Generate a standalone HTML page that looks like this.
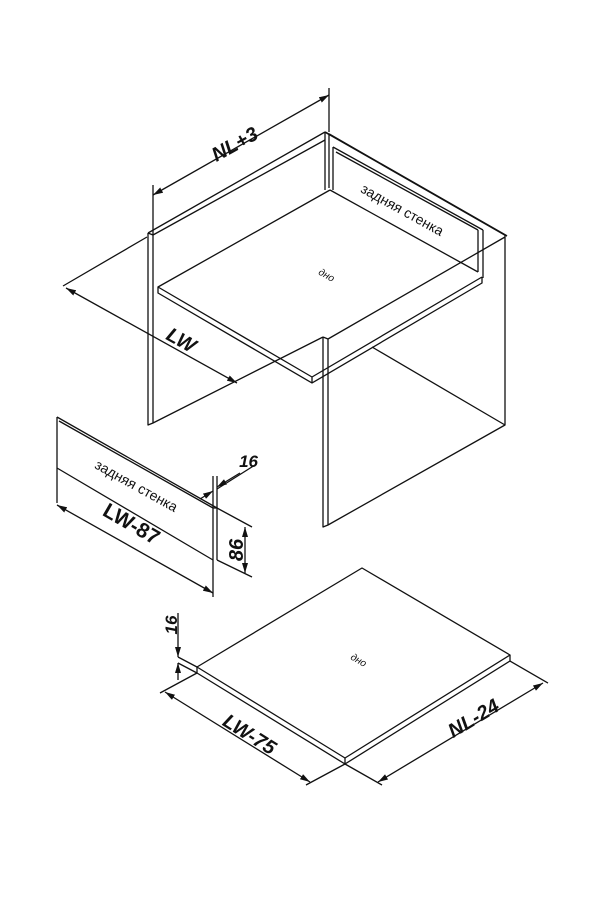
<!DOCTYPE html>
<html><head><meta charset="utf-8"><style>
html,body{margin:0;padding:0;background:#fff}
svg{display:block}
text{font-family:"Liberation Sans",sans-serif;fill:#111}
.b{font-weight:bold;font-style:italic;font-size:20px}
.s{font-size:14px}
</style></head><body>
<svg width="600" height="900" viewBox="0 0 600 900" xmlns="http://www.w3.org/2000/svg">
<defs>
<marker id="a" viewBox="0 0 10 6" refX="10" refY="3" markerWidth="10" markerHeight="6" orient="auto-start-reverse" markerUnits="userSpaceOnUse">
<path d="M0,0 L10,3 L0,6 z" fill="#111"/></marker>
</defs>
<g stroke="#111" stroke-width="1.3" fill="none" stroke-linejoin="round">
<path d="M148,233 L148,425 L153,423 L153,235 L148,233 M148,233 L325,132 M153,235 L325,140 M153,423 L323,337"/>
<path d="M325,132 L325,190 M329,134 L329,188"/>
<path d="M325,132 L505,235 M329,134 L507,236" stroke-width="1.6"/>
<path d="M323,337 L323,527 L328,525 L328,339 L323,337 M328,339 L505,237 M505,235 L505,425 L328,525 M372,347 L505,425"/>
<path d="M333,147 L333,190 M333,147 L483,230 M336,152 L478,230 M483,230 L483,278 M478,230 L478,272 M330,190 L478,272"/>
<path d="M330,190 L158,287 L312,377 L482,277 M158,287 L158,293 L312,383 L482,283 L482,277 M312,377 L312,383"/>
<path d="M153,235 L153,185 M329,132 L329,88"/>
<path d="M153,195 L329,95" marker-start="url(#a)" marker-end="url(#a)"/>
<path d="M147,237 L63,286"/>
<path d="M66,288 L237,383" marker-start="url(#a)" marker-end="url(#a)"/>
<path d="M57,417 L57,503 M57,417 L217,508 M59,421 L213,508 M57,468 L213,560 M213,508 L213,597 M217,508 L217,560 M213,508 L217,508"/>
<path d="M57,505 L213,593" marker-start="url(#a)" marker-end="url(#a)"/>
<path d="M213,508 L213,476 M217,508 L217,476"/>
<path d="M217,489 L255,465" />
<path d="M200,499 L213,491" marker-end="url(#a)"/>
<path d="M240,473 L217,487" marker-end="url(#a)"/>
<path d="M217,508 L252,527 M217,560 L252,577"/>
<path d="M245,527 L245,573" marker-start="url(#a)" marker-end="url(#a)"/>
<path d="M362,568 L197,667 L345,758 L510,655 Z"/>
<path d="M197,667 L197,673 L345,764 L510,661 L510,655 M345,758 L345,764"/>
<path d="M197,667 L178,657 M197,673 L178,663"/>
<path d="M178,613 L178,657" marker-end="url(#a)"/>
<path d="M178,680 L178,663" marker-end="url(#a)"/>
<path d="M197,673 L160,693 M345,764 L306,785 M345,764 L382,785 M510,661 L548,683"/>
<path d="M165,692 L310,782" marker-start="url(#a)" marker-end="url(#a)"/>
<path d="M378,782 L543,683" marker-start="url(#a)" marker-end="url(#a)"/>
</g>
<text class="b" transform="translate(238,150) rotate(-29)" text-anchor="middle">NL+3</text>
<text class="b" transform="translate(178,346) rotate(29)" text-anchor="middle">LW</text>
<text class="s" transform="translate(400,214) rotate(29)" text-anchor="middle">задняя стенка</text>
<text transform="translate(325,278) rotate(29)" text-anchor="middle" style="font-size:10px;font-style:italic">дно</text>
<text class="s" transform="translate(134,490) rotate(29)" text-anchor="middle">задняя стенка</text>
<text transform="translate(128,530) rotate(30)" text-anchor="middle" style="font-weight:bold;font-size:21px">LW-87</text>
<text class="b" transform="translate(243,550) rotate(-90)" text-anchor="middle">86</text>
<text class="b" transform="translate(258,467)" text-anchor="end" style="font-size:17px">16</text>
<text class="b" transform="translate(177,625) rotate(-90)" text-anchor="middle" style="font-size:17px">16</text>
<text transform="translate(357,663) rotate(30)" text-anchor="middle" style="font-size:10px;font-style:italic">дно</text>
<text class="b" transform="translate(246,740) rotate(32)" text-anchor="middle">LW-75</text>
<text class="b" transform="translate(477,724) rotate(-31)" text-anchor="middle">NL-24</text>
</svg>
</body></html>
